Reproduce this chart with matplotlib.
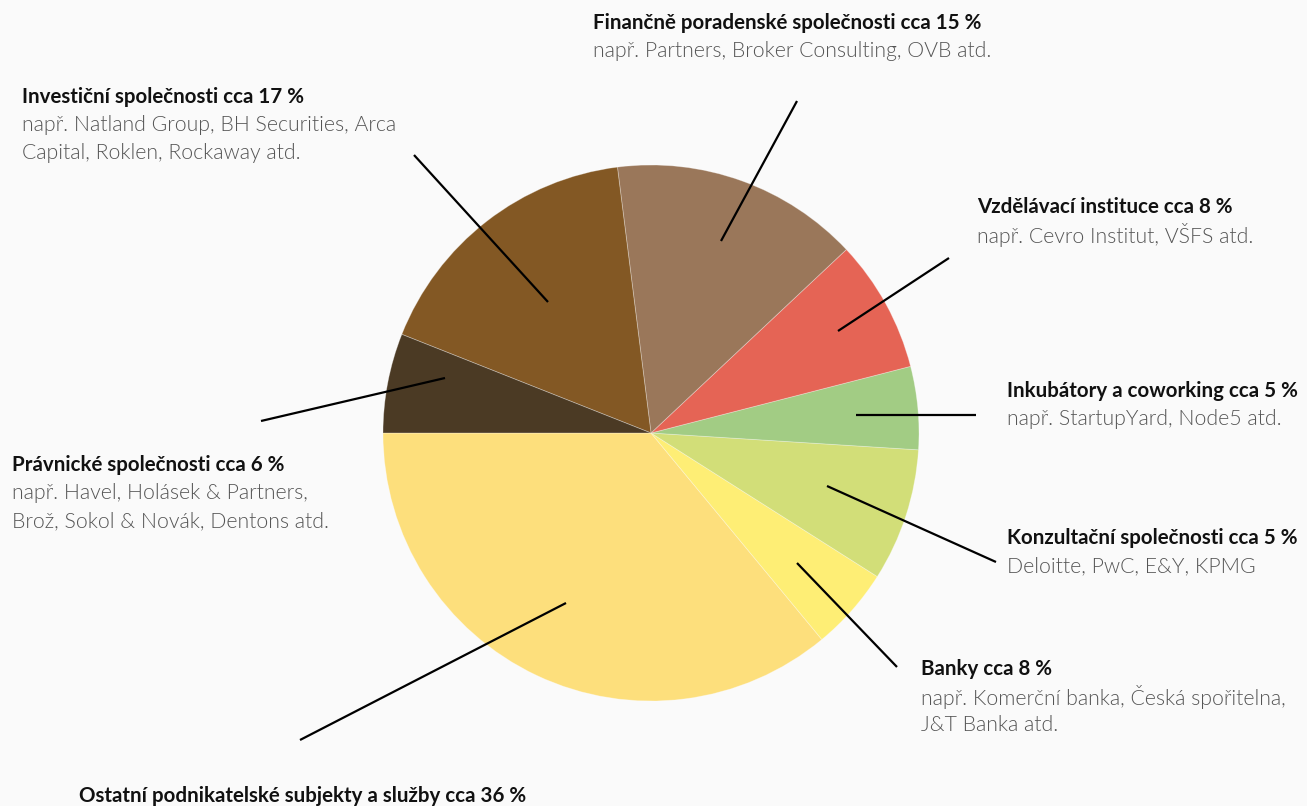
import matplotlib
matplotlib.use("Agg")
import matplotlib.pyplot as plt

W, H = 1307, 806
BG = "#FAFAFA"

# slices in drawing order, counterclockwise from the left horizontal
labels = ["Ostatní", "Banky", "Konzultační", "Inkubátory",
          "Vzdělávací", "Finanční", "Investiční", "Právnické"]
shares = [36, 5, 8, 5, 8, 15, 17, 6]
colors = ["#FDDF7C", "#FEEE75", "#D2DE78", "#A2CC84",
          "#E56455", "#9A775A", "#835824", "#4B3A24"]

titles = {
    "Finanční":    "Finančně poradenské společnosti cca 15 %",
    "Investiční":  "Investiční společnosti cca 17 %",
    "Vzdělávací":  "Vzdělávací instituce cca 8 %",
    "Inkubátory":  "Inkubátory a coworking cca 5 %",
    "Konzultační": "Konzultační společnosti cca 5 %",
    "Banky":       "Banky cca 8 %",
    "Právnické":   "Právnické společnosti cca 6 %",
    "Ostatní":     "Ostatní podnikatelské subjekty a služby cca 36 %",
}
details = {
    "Finanční":    ["např. Partners, Broker Consulting, OVB atd."],
    "Investiční":  ["např. Natland Group, BH Securities, Arca",
                    "Capital, Roklen, Rockaway atd."],
    "Vzdělávací":  ["např. Cevro Institut, VŠFS atd."],
    "Inkubátory":  ["např. StartupYard, Node5 atd."],
    "Konzultační": ["Deloitte, PwC, E&Y, KPMG"],
    "Banky":       ["např. Komerční banka, Česká spořitelna,",
                    "J&T Banka atd."],
    "Právnické":   ["např. Havel, Holásek & Partners,",
                    "Brož, Sokol & Novák, Dentons atd."],
    "Ostatní":     [],
}

# layout in pixel coords (x left, y from top)
label_pos = {
    "Finanční":    (593, 23),
    "Investiční":  (22, 97),
    "Vzdělávací":  (977, 207),
    "Inkubátory":  (1007, 391),
    "Konzultační": (1007, 538),
    "Banky":       (921, 669),
    "Právnické":   (12, 465),
    "Ostatní":     (79, 796),
}
leaders = {
    "Finanční":    ((797, 101), (721, 241)),
    "Investiční":  ((414, 155), (548, 302)),
    "Vzdělávací":  ((949, 258), (838, 331)),
    "Inkubátory":  ((976, 415), (856, 415)),
    "Konzultační": ((996, 562), (827, 486)),
    "Banky":       ((897, 667), (797, 563)),
    "Právnické":   ((261, 421), (445, 378)),
    "Ostatní":     ((300, 740), (566, 603)),
}
LINE_STEP = 28

plt.rcParams["font.family"] = ["Lato", "DejaVu Sans"]

fig = plt.figure(figsize=(W / 100, H / 100), dpi=100, facecolor=BG)
ax = fig.add_axes([0, 0, 1, 1])
ax.set_facecolor(BG)

ax.pie(shares, colors=colors, startangle=180, counterclock=True,
       center=(651, H - 433), radius=268,
       wedgeprops=dict(linewidth=0.6, edgecolor="#FFFFFF55"))
ax.set_xlim(0, W)
ax.set_ylim(0, H)
ax.set_aspect("equal")
ax.axis("off")

for key in labels:
    x, y = label_pos[key]
    ax.text(x, H - y, titles[key], fontsize=14.8, fontweight="bold",
            color="#111111", ha="left", va="center")
    for i, line in enumerate(details[key]):
        ax.text(x, H - y - LINE_STEP * (i + 1), line, fontsize=15.3,
                fontweight=300, color="#555555", ha="left", va="center")
    (x0, y0), (x1, y1) = leaders[key]
    ax.plot([x0, x1], [H - y0, H - y1], color="black", lw=1.6,
            solid_capstyle="butt")

fig.savefig("out.png", dpi=100, facecolor=BG)
